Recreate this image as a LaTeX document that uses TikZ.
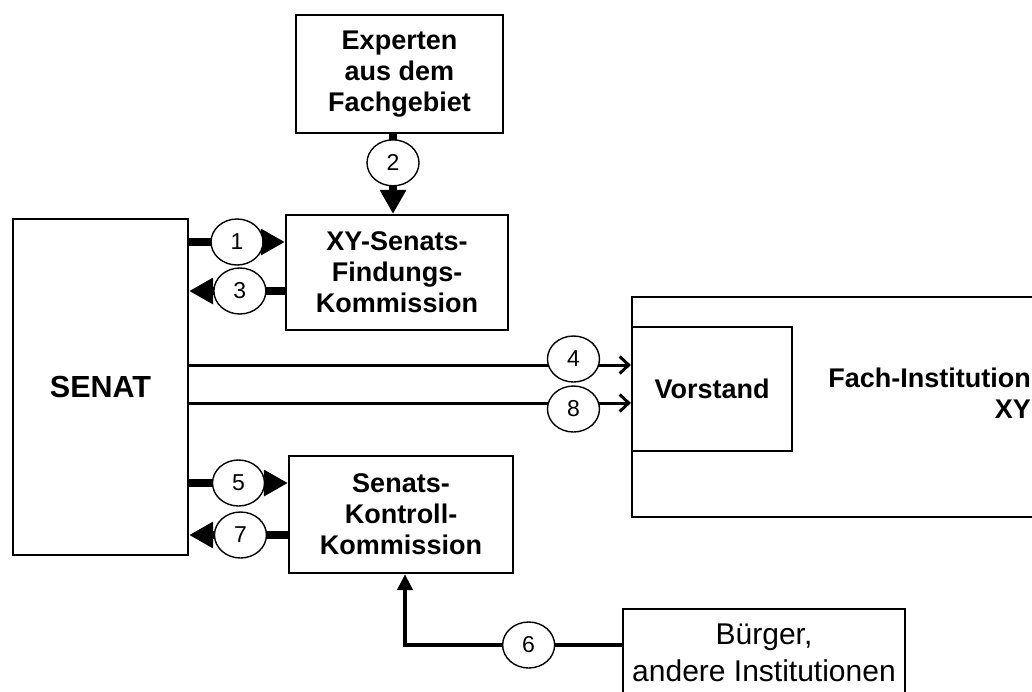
\documentclass[tikz,border=0pt]{standalone}
\usepackage{fontspec}
\setmainfont{Liberation Sans}
\usetikzlibrary{arrows.meta,shapes.geometric}
\begin{document}
\begin{tikzpicture}[x=1pt,y=-1pt,
 box/.style={draw,line width=2.2pt,inner sep=0pt},
 btext/.style={font=\fontsize{27}{31}\selectfont\bfseries,align=center},
 num/.style={draw,ellipse,fill=white,line width=1.4pt,minimum width=52pt,minimum height=46pt,inner sep=0pt,font=\fontsize{23}{23}\selectfont},
 heavy/.style={line width=7.5pt,-{Triangle[length=24pt,width=25pt]}},
 medium/.style={line width=4.5pt,-{Triangle[length=16pt,width=15pt]}},
 light/.style={line width=3pt,-{Straight Barb[length=9pt,width=17pt]}},
]
\useasboundingbox (0,0) rectangle (1032,691);
\clip (0,0) rectangle (1032,691);
\fill[white] (0,0) rectangle (1032,691);

% boxes
\node[box,btext,minimum width=207pt,minimum height=118pt] (experten) at (399.5,74) {Experten\\aus dem\\Fachgebiet};
\node[box,minimum width=175pt,minimum height=336pt,font=\fontsize{30.5}{35}\selectfont\bfseries] (senat) at (100.5,387) {SENAT};
\node[box,btext,minimum width=222pt,minimum height=115pt] (xy) at (397,272.5) {XY-Senats-\\Findungs-\\Kommission};
\node[box,btext,minimum width=224pt,minimum height=117pt] (kontroll) at (401,514.5) {Senats-\\Kontroll-\\Kommission};
\node[box,minimum width=468pt,minimum height=220pt] (fach) at (866,407) {};
\node[btext,align=right,anchor=east,inner sep=0pt] (fachtext) at (1031,393) {Fach-Institution\\XY};
\node[box,btext,minimum width=160pt,minimum height=124pt] (vorstand) at (712,389) {Vorstand};
\node[box,minimum width=282pt,minimum height=111pt] (buerger) at (764,664.5) {};
\node[font=\fontsize{30}{37}\selectfont,align=center,inner sep=0pt] (buergertext) at (764,653) {Bürger,\\andere Institutionen};

% connectors
\draw[heavy] (experten.south -| 393,0) -- node[num,pos=0.36]{2} (xy.north -| 393,0);
\draw[heavy] (senat.east |- 0,242) -- node[num]{1} (xy.west |- 0,242);
\draw[heavy] (xy.west |- 0,291) -- node[num,pos=0.47]{3} (senat.east |- 0,291);
\draw[heavy] (senat.east |- 0,483) -- node[num]{5} (kontroll.west |- 0,483);
\draw[heavy] (kontroll.west |- 0,535) -- node[num,pos=0.48]{7} (senat.east |- 0,535);
\draw[light] (senat.east |- 0,365) -- node[num,pos=0.87,yshift=6pt]{4} (vorstand.west |- 0,365);
\draw[light] (senat.east |- 0,403) -- node[num,pos=0.87,yshift=-6pt]{8} (vorstand.west |- 0,403);
\draw[medium] (buerger.west |- 0,645) -- node[num,pos=0.43]{6} (405,645) -- (kontroll.south -| 405,0);
\end{tikzpicture}
\end{document}
